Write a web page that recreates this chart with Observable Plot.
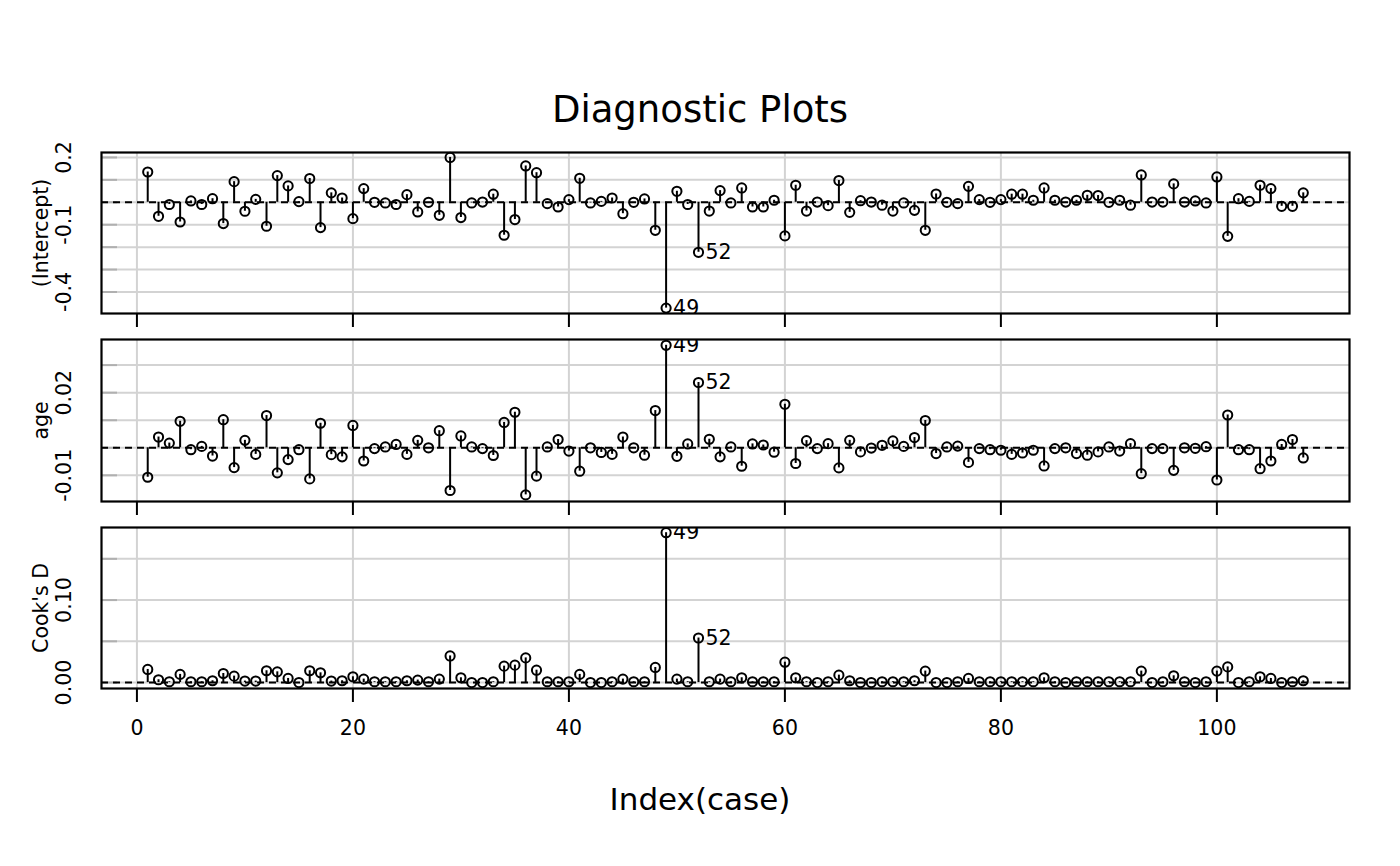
<!DOCTYPE html>
<html>
<head>
<meta charset="utf-8">
<script src="https://cdn.jsdelivr.net/npm/d3@7"></script>
<script src="https://cdn.jsdelivr.net/npm/@observablehq/plot@0.6"></script>
<style>
  body { margin: 0; background: white; }
  #chart { position: relative; width: 1400px; height: 866px; font-family: "DejaVu Sans", sans-serif; }
  #chart svg { position: absolute; left: 0; }
  .big { position: absolute; left: 0; width: 1400px; text-align: center; line-height: 1; color: black; }
</style>
</head>
<body>
<div id="chart">
  <div class="big" style="top:91px;font-size:37px">Diagnostic Plots</div>
  <div class="big" style="top:784px;font-size:31px">Index(case)</div>
</div>
<script>
// case numbers 1..108
const cases = d3.range(1, 109)

// dfbeta for the intercept
const dfbIntercept = [
  0.135, -0.0625, -0.010, -0.088, 0.006, -0.010, 0.016, -0.095, 0.092, -0.040,
  0.013, -0.107, 0.119, 0.073, 0.003, 0.106, -0.113, 0.042, 0.019, -0.073,
  0.061, 0.000, -0.003, -0.010, 0.034, -0.043, 0.000, -0.058, 0.200, -0.068,
  -0.003, 0.001, 0.036, -0.147, -0.077, 0.162, 0.132, -0.006, -0.021, 0.012,
  0.107, -0.003, 0.004, 0.019, -0.051, 0.000, 0.015, -0.125, -0.472, 0.049,
  -0.010, -0.223, -0.039, 0.052, -0.003, 0.064, -0.021, -0.021, 0.009, -0.150,
  0.076, -0.039, 0.001, -0.015, 0.097, -0.045, 0.007, 0.001, -0.013, -0.039,
  -0.003, -0.036, -0.125, 0.037, 0.000, -0.006, 0.071, 0.012, 0.000, 0.012,
  0.036, 0.036, 0.009, 0.064, 0.009, 0.001, 0.009, 0.031, 0.030, 0.000,
  0.009, -0.013, 0.122, 0.001, 0.001, 0.082, 0.001, 0.006, -0.003, 0.113,
  -0.152, 0.016, 0.004, 0.076, 0.061, -0.018, -0.018, 0.042
]

// dfbeta for age
const dfbAge = [
  -0.0107, 0.0039, 0.0017, 0.0096, -0.0007, 0.0005, -0.0030, 0.0102, -0.0072, 0.0027,
  -0.0024, 0.0117, -0.0091, -0.0043, -0.0007, -0.0113, 0.0089, -0.0025, -0.0033, 0.0081,
  -0.0048, -0.0003, 0.0003, 0.0012, -0.0024, 0.0027, 0.0000, 0.0062, -0.0155, 0.0043,
  0.0003, -0.0003, -0.0028, 0.0092, 0.0129, -0.0171, -0.0103, 0.0003, 0.0030, -0.0012,
  -0.0085, 0.0000, -0.0017, -0.0024, 0.0039, 0.0000, -0.0027, 0.0135, 0.0372, -0.0031,
  0.0014, 0.0237, 0.0031, -0.0033, 0.0003, -0.0067, 0.0014, 0.0010, -0.0016, 0.0158,
  -0.0057, 0.0026, -0.0003, 0.0015, -0.0073, 0.0027, -0.0015, -0.0001, 0.0009, 0.0025,
  0.0005, 0.0037, 0.0099, -0.0021, 0.0003, 0.0006, -0.0053, -0.0003, -0.0007, -0.0009,
  -0.0024, -0.0019, -0.0009, -0.0066, -0.0003, 0.0000, -0.0021, -0.0027, -0.0015, 0.0003,
  -0.0012, 0.0015, -0.0094, -0.0003, -0.0003, -0.0082, 0.0000, -0.0002, 0.0004, -0.0117,
  0.0119, -0.0007, -0.0007, -0.0076, -0.0048, 0.0012, 0.0030, -0.0037
]

// Cook's distance
const cooksD = [
  0.0159, 0.0034, 0.001, 0.0099, 0.001, 0.001, 0.0022, 0.011, 0.0078, 0.0018,
  0.0018, 0.0143, 0.013, 0.005, 0.000, 0.0143, 0.0118, 0.0018, 0.0022, 0.007,
  0.0042, 0.001, 0.001, 0.001, 0.0022, 0.003, 0.001, 0.0042, 0.0323, 0.0058,
  0.000, 0.000, 0.001, 0.0199, 0.0211, 0.0299, 0.015, 0.001, 0.001, 0.001,
  0.0099, 0.000, 0.000, 0.001, 0.0042, 0.001, 0.001, 0.0183, 0.1817, 0.0042,
  0.001, 0.054, 0.001, 0.0042, 0.001, 0.0058, 0.001, 0.001, 0.001, 0.0247,
  0.0058, 0.001, 0.000, 0.001, 0.009, 0.0022, 0.000, 0.000, 0.001, 0.001,
  0.001, 0.0022, 0.0139, 0.000, 0.000, 0.001, 0.005, 0.001, 0.001, 0.001,
  0.001, 0.001, 0.001, 0.0058, 0.001, 0.000, 0.001, 0.001, 0.001, 0.001,
  0.001, 0.001, 0.0139, 0.000, 0.001, 0.0082, 0.001, 0.000, 0.001, 0.0139,
  0.019, 0.000, 0.001, 0.007, 0.005, 0.000, 0.001, 0.0022
]

const labelled = [49, 52]
const xTicks = [0, 20, 40, 60, 80, 100]

// y grid values and the tick labels R kept
const grid1 = [-0.4, -0.3, -0.2, -0.1, 0, 0.1, 0.2]
const ticks1 = [0.2, -0.1, -0.4]
const tickText1 = ["0.2", "-0.1", "-0.4"]
const grid2 = [-0.01, 0, 0.01, 0.02, 0.03]
const ticks2 = [0.02, -0.01]
const tickText2 = ["0.02", "-0.01"]
const grid3 = [0, 0.05, 0.10, 0.15]
const ticks3 = [0, 0.10]
const tickText3 = ["0.00", "0.10"]

const xDomain = [-3.28, 112.28]
const gray = "#d3d3d3"

function panel(values, o) {
  const data = cases.map((i, k) => ({i, v: values[k]}))
  const tickRows = o.ticks.map((t, k) => ({t, s: o.tickText[k]}))
  const svg = Plot.plot({
    width: 1400,
    height: o.height,
    marginLeft: 101,
    marginRight: 51,
    marginTop: o.marginTop,
    marginBottom: o.marginBottom,
    style: {fontFamily: "DejaVu Sans, sans-serif", background: "transparent", overflow: "visible"},
    x: {domain: xDomain, axis: null},
    y: {domain: o.yDomain, axis: null},
    marks: [
      Plot.ruleX(xTicks, {x: d => d, stroke: gray, strokeWidth: 2}),
      Plot.ruleY(o.grid, {y: d => d, stroke: gray, strokeWidth: 2}),
      Plot.axisY({ticks: o.grid, tickSize: -16, tickFormat: () => "", stroke: "#b0b0b0", strokeWidth: 2, label: null}),
      Plot.ruleY([0], {stroke: "black", strokeWidth: 2, strokeDasharray: "7,5"}),
      Plot.ruleX(data, {x: "i", y1: 0, y2: "v", stroke: "black", strokeWidth: 2}),
      Plot.dot(data, {x: "i", y: "v", r: 4.6, stroke: "black", strokeWidth: 2, fill: "none"}),
      Plot.text(data.filter(d => labelled.includes(d.i)), {
        x: "i", y: "v", text: d => String(d.i), textAnchor: "start", dx: 7,
        fontSize: 20.5, fill: "black", clip: true
      }),
      Plot.frame({stroke: "black", strokeWidth: 2.2}),
      Plot.text(tickRows, {
        y: "t", text: "s", frameAnchor: "left", textAnchor: "middle", dx: -37,
        rotate: -90, fontSize: 20.5, fill: "black"
      }),
      Plot.text([o.title], {
        frameAnchor: "left", textAnchor: "middle", dx: -60,
        rotate: -90, fontSize: 20.5, fill: "black"
      }),
      Plot.axisX({
        ticks: xTicks, tickSize: 14, tickPadding: 18, strokeWidth: 2, fontSize: 20.5,
        label: null, tickFormat: o.showX ? d => String(d) : () => ""
      })
    ]
  })
  svg.style.top = o.top + "px"
  d3.select("#chart").append(() => svg)
}

panel(dfbIntercept, {
  title: "(Intercept)", top: 130, height: 202, marginTop: 22, marginBottom: 19,
  yDomain: [-0.496, 0.222], grid: grid1, ticks: ticks1, tickText: tickText1, showX: false
})
panel(dfbAge, {
  title: "age", top: 332, height: 186, marginTop: 7, marginBottom: 17,
  yDomain: [-0.0195, 0.0393], grid: grid2, ticks: ticks2, tickText: tickText2, showX: false
})
panel(cooksD, {
  title: "Cook's D", top: 518, height: 230, marginTop: 9, marginBottom: 60,
  yDomain: [-0.0072, 0.188], grid: grid3, ticks: ticks3, tickText: tickText3, showX: true
})
</script>
</body>
</html>
